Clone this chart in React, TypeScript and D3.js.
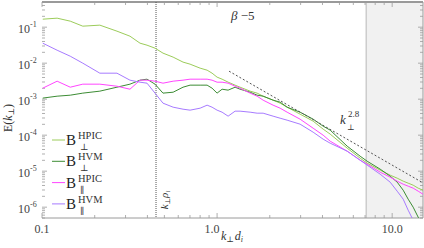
import React from "react";
import * as d3 from "d3";

const kValues = [0.101,0.122,0.145,0.171,0.214,0.268,0.318,0.363,0.398,0.442,0.491,0.561,0.639,0.701,0.800,0.877,0.936,1.0,1.068,1.156,1.267,1.353,1.544,1.693,1.832,2.089,2.291,2.512,2.979,3.537,4.034,4.424,5.534,6.561,7.197,8.536,9.74,10.68,11.56,12.34,13.18,14.08,15.0];

const bPerpHPIC = [0.1667,0.1778,0.1468,0.1066,0.1137,0.0774,0.0562,0.0359,0.0316,0.0261,0.0190,0.0147,0.0107,0.00938,0.00727,0.00639,0.00528,0.00409,0.00359,0.00297,0.00245,0.00215,0.00167,0.00147,0.00121,0.000938,0.000774,0.000600,0.000383,0.000245,0.000147,0.000107,4.36e-5,2.30e-5,1.67e-5,1.07e-5,7.74e-6,6.39e-6,5.28e-6,4.64e-6,4.08e-6,3.37e-6,2.97e-6];

const bPerpHVM = [0.00107,0.00121,0.00129,0.00147,0.00167,0.00215,0.00261,0.00337,0.00359,0.00261,0.00147,0.00156,0.00215,0.00245,0.00245,0.00245,0.00202,0.00147,0.00189,0.00178,0.00215,0.00189,0.00156,0.00129,0.00121,0.000938,0.000826,0.000599,0.000435,0.000278,0.000178,0.000138,4.95e-5,2.61e-5,1.89e-5,1.14e-5,7.26e-6,4.95e-6,2.96e-6,1.67e-6,1.0e-6,5.27e-7,3.16e-7];

const bParHPIC = [0.00202,0.00316,0.00215,0.00261,0.00261,0.00229,0.00189,0.00337,0.00337,0.00316,0.00278,0.00316,0.00337,0.00359,0.00359,0.00359,0.00337,0.00296,0.00296,0.00278,0.00229,0.00202,0.00147,0.00121,0.000938,0.000681,0.000562,0.000435,0.000278,0.000156,1.0e-4,6.81e-5,3.59e-5,2.02e-5,1.56e-5,9.38e-6,6.81e-6,5.27e-6,4.35e-6,3.83e-6,3.37e-6,2.78e-6,2.29e-6];

const bParHVM = [0.0359,0.0229,0.0156,0.01,0.00527,0.00527,0.00337,0.00296,0.00278,0.00147,0.000774,0.000599,0.000527,0.000495,0.000562,0.000681,0.000599,0.000495,0.000435,0.000337,0.000464,0.000464,0.000435,0.000408,0.000408,0.000337,0.000296,0.000261,0.000202,0.000121,7.74e-5,5.99e-5,3.59e-5,2.02e-5,1.47e-5,8.25e-6,4.95e-6,2.78e-6,1.67e-6,8.25e-7,4.35e-7];

const fitK = [1.17, 15];
const fitE = [0.00599, 4.73e-6];

const kRhoI = 0.448;
const shadeStart = 7.1;

const xTickLabels = [
  { v: 0.1, t: "0.1" },
  { v: 1, t: "1.0" },
  { v: 10, t: "10.0" },
];
const yTickExps = [-1, -2, -3, -4, -5, -6];

const series = [
  { name: "HPIC", sub: "⊥", values: bPerpHPIC, color: "#9ccc5a" },
  { name: "HVM", sub: "⊥", values: bPerpHVM, color: "#3c8c34" },
  { name: "HPIC", sub: "∥", values: bParHPIC, color: "#ff46ff" },
  { name: "HVM", sub: "∥", values: bParHVM, color: "#a77bff" },
];

const FONT = "'Liberation Serif', 'DejaVu Serif', serif";

export default function App() {
  const W = 424, H = 248;
  const L = 42, R = 423, T = 2, B = 218;
  const x = d3.scaleLog().domain([0.1, 15]).range([L, R]);
  const y = d3.scaleLog().domain([5e-7, 0.5]).range([B, T]);

  const line = d3
    .line<[number, number]>()
    .x((d) => x(d[0]))
    .y((d) => y(d[1]));

  const xt = x.ticks();
  const yt = y.ticks();
  const isMajor = (v: number) => Math.abs(Math.log10(v) - Math.round(Math.log10(v))) < 1e-6;
  const axisColor = "#9a9a9a";

  return (
    <svg width={W} height={H} style={{ position: "absolute", left: 0, top: 0, background: "#fff" }} fontFamily={FONT}>
      <defs>
        <clipPath id="plot">
          <rect x={L} y={T} width={R - L} height={B - T} />
        </clipPath>
      </defs>
      {/* shaded region */}
      <rect x={x(shadeStart)} y={T} width={R - x(shadeStart)} height={B - T} fill="#f1f1f1" />
      <line x1={x(shadeStart)} x2={x(shadeStart)} y1={T} y2={B} stroke="#b8b8b8" strokeWidth={1} />

      {/* ticks */}
      {xt.map((v, i) => {
        const len = isMajor(v) ? 5 : 3;
        return (
          <g key={"xt" + i} stroke={axisColor} strokeWidth={0.8}>
            <line x1={x(v)} x2={x(v)} y1={B} y2={B - len} />
            <line x1={x(v)} x2={x(v)} y1={T} y2={T + len} />
          </g>
        );
      })}
      {yt.map((v, i) => {
        const len = isMajor(v) ? 5 : 3;
        return (
          <g key={"yt" + i} stroke={axisColor} strokeWidth={0.8}>
            <line x1={L} x2={L + len} y1={y(v)} y2={y(v)} />
            <line x1={R} x2={R - len} y1={y(v)} y2={y(v)} />
          </g>
        );
      })}

      {/* frame */}
      <line x1={L} x2={R} y1={T} y2={T} stroke={axisColor} strokeWidth={2} />
      <line x1={L} x2={R} y1={B} y2={B} stroke={axisColor} strokeWidth={1} />
      <line x1={R} x2={R} y1={T} y2={B} stroke={axisColor} strokeWidth={1} />

      {/* k rho_i line */}
      <line x1={x(kRhoI)} x2={x(kRhoI)} y1={T} y2={B} stroke="#555" strokeWidth={1} strokeDasharray="1,1" />

      <g clipPath="url(#plot)">
        {series.map((s, i) => (
          <path
            key={i}
            d={line(s.values.map((v, j) => [kValues[j], v] as [number, number])) || ""}
            fill="none"
            stroke={s.color}
            strokeWidth={1}
          />
        ))}
        <path
          d={line(fitK.map((k, j) => [k, fitE[j]] as [number, number])) || ""}
          fill="none"
          stroke="#555"
          strokeWidth={1}
          strokeDasharray="2,2"
        />
      </g>

      {/* y tick labels */}
      {yTickExps.map((e) => (
        <text key={"yl" + e} x={18} y={y(Math.pow(10, e)) + 6} fontSize={12} fill="#444">
          10
          <tspan dy={-6} fontSize={8}>{"-" + -e}</tspan>
        </text>
      ))}
      {/* x tick labels */}
      {xTickLabels.map((d) => (
        <text key={"xl" + d.t} x={x(d.v) - (d.v === 1 ? 5 : 0)} y={233} fontSize={12} fill="#444" textAnchor="middle">
          {d.t}
        </text>
      ))}

      {/* x label */}
      <text x={221} y={240} fontSize={12} fill="#333" fontStyle="italic">
        k<tspan fontSize={8} dy={2}>⊥</tspan>
        <tspan dy={-2} dx={1}>d</tspan>
        <tspan fontSize={8} dy={2}>i</tspan>
      </text>

      {/* y label */}
      <text transform="translate(12,118) rotate(-90)" fontSize={12} fill="#333" textAnchor="middle">
        E(<tspan fontStyle="italic">k</tspan>
        <tspan fontSize={8} dy={2}>⊥</tspan>
        <tspan dy={-2}>)</tspan>
      </text>

      {/* k rho_i label */}
      <text transform={`translate(${x(kRhoI) + 12},${200}) rotate(-90)`} fontSize={11} fill="#333" fontStyle="italic" textAnchor="middle">
        k<tspan fontSize={7} dy={2}>⊥</tspan>
        <tspan dy={-2}>ρ</tspan>
        <tspan fontSize={7} dy={2}>i</tspan>
      </text>

      {/* beta label */}
      <text x={231} y={20} fontSize={13} fill="#333">
        <tspan fontStyle="italic">β</tspan> −5
      </text>

      {/* power law label */}
      <text x={340} y={124} fontSize={13} fill="#333" fontStyle="italic">k</text>
      <text x={347} y={130} fontSize={8} fill="#333">⊥</text>
      <text x={348} y={117} fontSize={9} fill="#333">2.8</text>

      {/* legend */}
      {series.map((s, i) => {
        const ly = 140 + i * 21.3;
        return (
          <g key={"lg" + i}>
            <line x1={52} x2={65} y1={ly} y2={ly} stroke={s.color} strokeWidth={1} />
            <text x={66} y={ly + 5} fontSize={15} fill="#222">B</text>
            <text x={78} y={ly - 1} fontSize={10.5} fill="#333">{s.name}</text>
            <text x={80} y={ly + 10} fontSize={9} fill="#333">{s.sub}</text>
          </g>
        );
      })}
    </svg>
  );
}
